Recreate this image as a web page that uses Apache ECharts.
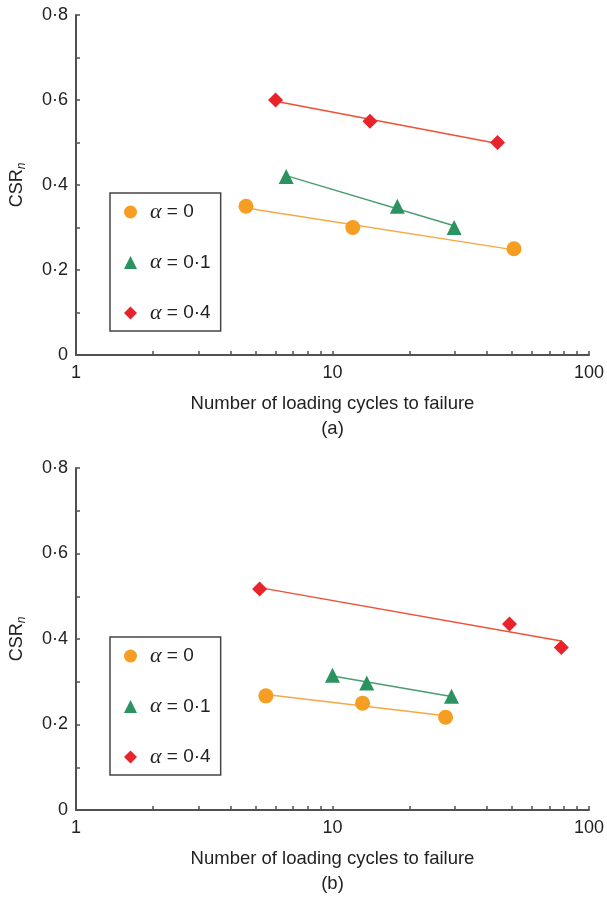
<!DOCTYPE html>
<html>
<head>
<meta charset="utf-8">
<style>
  html, body { margin: 0; padding: 0; background: #fff; }
  #chart { width: 607px; height: 897px; }
</style>
<script src="https://cdn.jsdelivr.net/npm/echarts@6/dist/echarts.min.js"></script>
</head>
<body>
<div id="chart"></div>
<script>
// Legend labels for the three alpha levels
const seriesNames = ['α = 0', 'α = 0·1', 'α = 0·4'];

// Panel (a): cycles to failure and CSR_n
const cyclesA_a0  = [4.6, 12.0, 51.0];
const csrA_a0     = [0.35, 0.30, 0.25];
const cyclesA_a01 = [6.6, 17.9, 29.8];
const csrA_a01    = [0.42, 0.35, 0.30];
const cyclesA_a04 = [6.0, 14.0, 44.0];
const csrA_a04    = [0.60, 0.55, 0.50];

// Panel (b): cycles to failure and CSR_n
const cyclesB_a0  = [5.5, 13.1, 27.6];
const csrB_a0     = [0.267, 0.25, 0.217];
const cyclesB_a01 = [10.0, 13.6, 29.1];
const csrB_a01    = [0.315, 0.297, 0.266];
const cyclesB_a04 = [5.2, 49.0, 78.0];
const csrB_a04    = [0.517, 0.435, 0.38];

// Axis ticks and labels
const xTickValues  = [1,2,3,4,5,6,7,8,9,10,20,30,40,50,60,70,80,90,100];
const xLabelValues = [1, 10, 100];
const yTickValues  = [0, 0.1, 0.2, 0.3, 0.4, 0.5, 0.6, 0.7, 0.8];
const yLabelValues = [0, 0.2, 0.4, 0.6, 0.8];

const markerColors = ['#F59E22', '#2B9360', '#E8232A'];
const lineColors   = ['#F7A843', '#4A9C70', '#EF5036'];
const symbols      = ['circle', 'triangle', 'diamond'];

function pairs(xs, ys) { return xs.map((x, i) => [x, ys[i]]); }

// Least-squares trend of CSR against log10(N), drawn over the tested range
function trend(xs, ys) {
  const lx = xs.map(v => Math.log10(v));
  const n = lx.length;
  const mx = lx.reduce((a, b) => a + b, 0) / n;
  const my = ys.reduce((a, b) => a + b, 0) / n;
  let sxy = 0, sxx = 0;
  for (let i = 0; i < n; i++) { sxy += (lx[i] - mx) * (ys[i] - my); sxx += (lx[i] - mx) ** 2; }
  const b = sxy / sxx, a = my - b * mx;
  const x0 = Math.min(...xs), x1 = Math.max(...xs);
  return [[x0, a + b * Math.log10(x0)], [x1, a + b * Math.log10(x1)]];
}

const panels = [
  { xs: [cyclesA_a0, cyclesA_a01, cyclesA_a04], ys: [csrA_a0, csrA_a01, csrA_a04], tag: '(a)' },
  { xs: [cyclesB_a0, cyclesB_a01, cyclesB_a04], ys: [csrB_a0, csrB_a01, csrB_a04], tag: '(b)' }
];

const grids = [
  { left: 76, right: 15, top: 15, height: 340 },
  { left: 76, right: 15, top: 468, height: 345 }
];

const axisColor = '#505050';
const textColor = '#222';
const sans = 'Liberation Sans, Arial, sans-serif';

const xAxes = panels.map((p, i) => ({
  type: 'log', logBase: 10, gridIndex: i, min: 1, max: 100,
  axisLine: { show: true, lineStyle: { color: axisColor, width: 2 } },
  axisTick: { show: true, inside: true, length: 4, customValues: xTickValues, lineStyle: { color: axisColor, width: 1.5 } },
  axisLabel: { customValues: xLabelValues, margin: 9, color: textColor, fontSize: 18, fontFamily: sans },
  splitLine: { show: false },
  minorTick: { show: false },
  name: 'Number of loading cycles to failure\n' + p.tag,
  nameLocation: 'middle', nameGap: 36,
  nameTextStyle: { color: textColor, fontSize: 18.5, fontFamily: sans, lineHeight: 25, verticalAlign: 'top' }
}));

const yAxes = panels.map((p, i) => ({
  type: 'value', gridIndex: i, min: 0, max: 0.8,
  axisLine: { show: true, lineStyle: { color: axisColor, width: 2 } },
  axisTick: { show: true, inside: true, length: 4, customValues: yTickValues, lineStyle: { color: axisColor, width: 1.5 } },
  axisLabel: {
    customValues: yLabelValues, margin: 8, color: textColor, fontSize: 18, fontFamily: sans,
    formatter: v => String(v).replace('.', '·')
  },
  splitLine: { show: false },
  name: 'CSR{sub|n}', nameLocation: 'middle', nameRotate: 90, nameGap: 50,
  nameTextStyle: {
    color: textColor, fontSize: 18, fontFamily: sans,
    rich: { sub: { fontSize: 12, fontStyle: 'italic', fontFamily: sans, color: textColor, padding: [0, 0, -9, 0] } }
  }
}));

const series = [];
panels.forEach((p, pi) => {
  for (let k = 0; k < 3; k++) {
    series.push({
      name: 'trend-' + pi + '-' + k, type: 'line', xAxisIndex: pi, yAxisIndex: pi,
      data: trend(p.xs[k], p.ys[k]), showSymbol: false, silent: true, z: 2,
      lineStyle: { color: lineColors[k], width: 1.5 }
    });
  }
  for (let k = 0; k < 3; k++) {
    series.push({
      name: seriesNames[k], type: 'scatter', xAxisIndex: pi, yAxisIndex: pi,
      data: pairs(p.xs[k], p.ys[k]), symbol: symbols[k], symbolSize: 15, z: 3,
      itemStyle: { color: markerColors[k], opacity: 1 }
    });
  }
});

const legendTops = [193, 637];
const legends = legendTops.map(t => ({
  data: seriesNames, orient: 'vertical', left: 110, top: t,
  itemWidth: 13, itemHeight: 13, itemGap: 28.5,
  padding: [8, 10, 7, 14],
  borderColor: '#444', borderWidth: 1.5, backgroundColor: '#fff',
  selectedMode: false,
  formatter: name => '{g|α}' + name.slice(1),
  textStyle: {
    color: textColor, fontSize: 19, fontFamily: sans, padding: [0, 0, 0, 8],
    rich: { g: { fontFamily: 'Liberation Serif, serif', fontStyle: 'italic', fontSize: 22, color: textColor } }
  }
}));

const chart = echarts.init(document.getElementById('chart'), null, { renderer: 'canvas' });
chart.setOption({
  animation: false,
  backgroundColor: '#fff',
  grid: grids,
  xAxis: xAxes,
  yAxis: yAxes,
  legend: legends,
  series: series
});
</script>
</body>
</html>
